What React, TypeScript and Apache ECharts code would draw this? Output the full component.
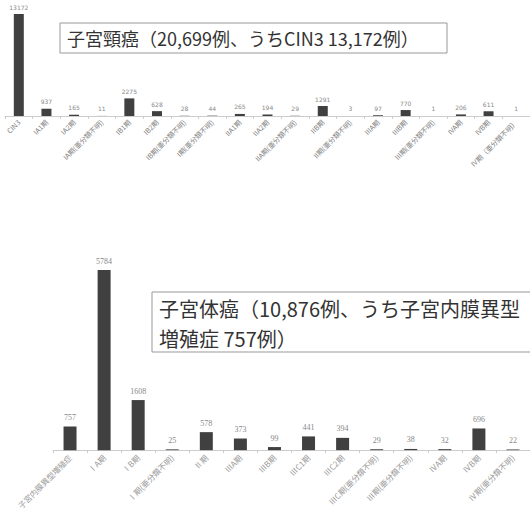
import React, { useEffect, useRef } from "react";
import * as echarts from "echarts";

const cervixCategories = [
  "CIN3", "IA1期", "IA2期", "IA期(亜分類不明)", "IB1期", "IB2期", "IB期(亜分類不明)",
  "I期(亜分類不明)", "IIA1期", "IIA2期", "IIA期(亜分類不明)", "IIB期", "II期(亜分類不明)",
  "IIIA期", "IIIB期", "III期(亜分類不明)", "IVA期", "IVB期", "Ⅳ期（亜分類不明）",
];
const cervixValues = [13172, 937, 165, 11, 2275, 628, 28, 44, 265, 194, 29, 1291, 3, 97, 770, 1, 206, 611, 1];

const corpusCategories = [
  "子宮内膜異型増殖症", "ⅠA期", "ⅠB期", "Ⅰ期(亜分類不明)", "Ⅱ期", "ⅢA期", "ⅢB期",
  "ⅢC1期", "ⅢC2期", "ⅢC期(亜分類不明)", "Ⅲ期(亜分類不明)", "ⅣA期", "ⅣB期", "Ⅳ期(亜分類不明)",
];
const corpusValues = [757, 5784, 1608, 25, 578, 373, 99, 441, 394, 29, 38, 32, 696, 22];

const cervixTitle = "子宮頸癌（20,699例、うちCIN3 13,172例）";
const corpusTitleLine1 = "子宮体癌（10,876例、うち子宮内膜異型";
const corpusTitleLine2 = "増殖症 757例）";

const FONT = "'Noto Sans CJK JP', 'Noto Sans', sans-serif";

export default function App() {
  const ref = useRef<HTMLDivElement>(null);
  useEffect(() => {
    if (!ref.current) return;
    const chart = echarts.init(ref.current, null, { renderer: "svg" });
    const axisCommon = {
      type: "category" as const,
      axisLine: { lineStyle: { color: "#cccccc", width: 1 } },
      axisTick: { show: true, length: 3, lineStyle: { color: "#cccccc" } },
    };
    chart.setOption({
      animation: false,
      backgroundColor: "#ffffff",
      grid: [
        { left: 5, top: 14, width: 527, height: 102 },
        { left: 53, top: 270, width: 481, height: 182 },
      ],
      xAxis: [
        {
          ...axisCommon,
          gridIndex: 0,
          data: cervixCategories,
          axisLabel: {
            interval: 0,
            rotate: 45,
            margin: 5,
            fontSize: 7,
            color: "#808080",
            fontFamily: FONT,
          },
        },
        {
          ...axisCommon,
          gridIndex: 1,
          data: corpusCategories,
          axisLabel: {
            interval: 0,
            rotate: 45,
            margin: 6,
            fontSize: 8,
            color: "#999999",
            fontFamily: FONT,
          },
        },
      ],
      yAxis: [
        { type: "value", gridIndex: 0, min: 0, max: 13172, show: false, splitLine: { show: false } },
        { type: "value", gridIndex: 1, min: 0, max: 5784, show: false, splitLine: { show: false } },
      ],
      series: [
        {
          type: "bar",
          xAxisIndex: 0,
          yAxisIndex: 0,
          data: cervixValues,
          barWidth: 10,
          itemStyle: { color: "#404040" },
          label: {
            show: true,
            position: "top",
            distance: 4,
            fontSize: 6,
            color: "#888888",
            fontFamily: "'DejaVu Sans', sans-serif",
          },
        },
        {
          type: "bar",
          xAxisIndex: 1,
          yAxisIndex: 1,
          data: corpusValues,
          barWidth: 13,
          itemStyle: { color: "#404040" },
          label: {
            show: true,
            position: "top",
            distance: 5,
            fontSize: 8,
            color: "#888888",
            fontFamily: "'Liberation Serif', serif",
          },
        },
      ],
      graphic: [
        {
          type: "rect",
          shape: { x: 60, y: 23, width: 387, height: 30 },
          style: { fill: "#ffffff", stroke: "#999999", lineWidth: 1 },
          z: 10,
        },
        {
          type: "text",
          x: 67,
          y: 38,
          style: {
            text: cervixTitle,
            font: `18px ${FONT}`,
            fill: "#333333",
            verticalAlign: "middle",
          },
          z: 11,
        },
        {
          type: "rect",
          shape: { x: 152, y: 292, width: 400, height: 60 },
          style: { fill: "#ffffff", stroke: "#999999", lineWidth: 1 },
          z: 10,
        },
        {
          type: "text",
          x: 159,
          y: 308,
          style: {
            text: corpusTitleLine1,
            font: `20px ${FONT}`,
            fill: "#333333",
            verticalAlign: "middle",
          },
          z: 11,
        },
        {
          type: "text",
          x: 159,
          y: 338,
          style: {
            text: corpusTitleLine2,
            font: `20px ${FONT}`,
            fill: "#333333",
            verticalAlign: "middle",
          },
          z: 11,
        },
      ],
    });
    return () => chart.dispose();
  }, []);
  return (
    <div style={{ position: "absolute", left: 0, top: 0, width: 530, height: 512, overflow: "hidden" }}>
      <div ref={ref} style={{ width: 530, height: 512 }} />
    </div>
  );
}
